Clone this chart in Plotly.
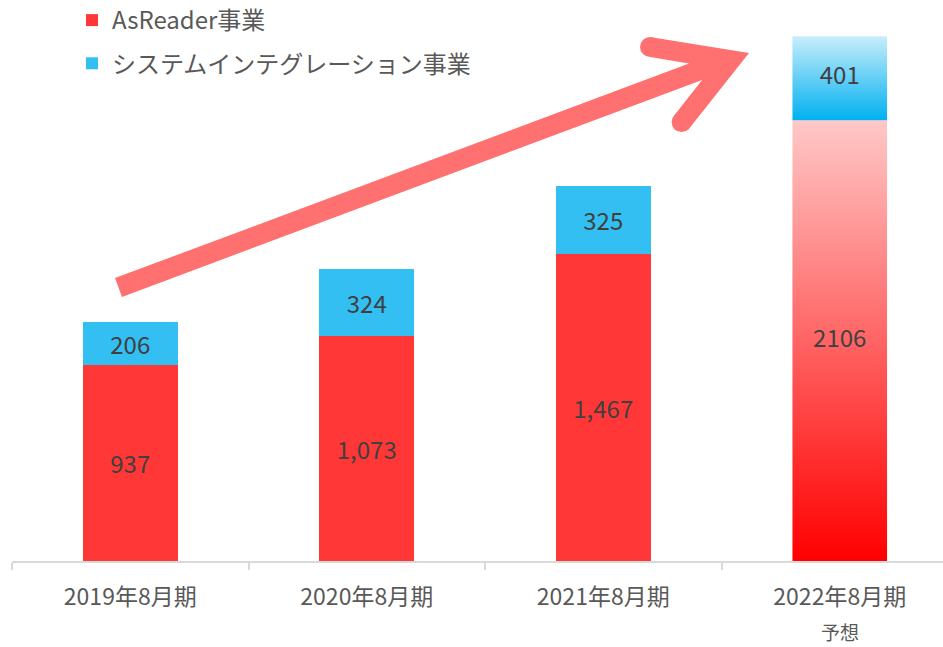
import plotly.graph_objects as go

# ---------------- data ----------------
categories = ["2019年8月期", "2020年8月期", "2021年8月期", "2022年8月期"]
asreader = [937, 1073, 1467, 2106]
system_integration = [206, 324, 325, 401]
asreader_labels = ["937", "1,073", "1,467", "2106"]
si_labels = ["206", "324", "325", "401"]
series_names = ["AsReader事業", "システムインテグレーション事業"]
forecast_note = "予想"

# ---------------- layout constants ----------------
W, H = 943, 647
ML, MR, MT, MB = 12, 0, 0, 86
PW, PH = W - ML - MR, H - MT - MB
CAT_PX = 236.5
X_MAX = -0.5 + PW / CAT_PX
Y_MAX = 2680
BAR_W = 0.4
FONT = "Noto Sans CJK JP"
RED, BLUE = "#FF3737", "#33BFF2"
ARROW = "#FF7171"

n = len(categories)
xs = list(range(n))
last = n - 1

fig = go.Figure()

red_colors = [RED] * (n - 1) + ["rgba(0,0,0,0)"]
blue_colors = [BLUE] * (n - 1) + ["rgba(0,0,0,0)"]
red_text = asreader_labels[:-1] + [""]
blue_text = si_labels[:-1] + [""]

label_font = dict(family=FONT, size=24, color="#404040")

fig.add_trace(go.Bar(
    x=xs, y=asreader, name=series_names[0], width=BAR_W,
    marker=dict(color=red_colors, line=dict(width=0)),
    text=red_text, textposition="inside", insidetextanchor="middle",
    textangle=0, textfont=label_font, legendgroup="a", hoverinfo="skip"))
fig.add_trace(go.Bar(
    x=xs, y=system_integration, name=series_names[1], width=BAR_W,
    marker=dict(color=blue_colors, line=dict(width=0)),
    text=blue_text, textposition="inside", insidetextanchor="middle",
    textangle=0, textfont=label_font, legendgroup="b", hoverinfo="skip"))

# forecast bar drawn with vertical gradients
hw = BAR_W / 2
x4 = xs[last]
r_top = asreader[last]
b_top = r_top + system_integration[last]
fig.add_trace(go.Scatter(
    x=[x4 - hw, x4 + hw, x4 + hw, x4 - hw, x4 - hw],
    y=[0, 0, r_top, r_top, 0], mode="lines", fill="toself",
    line=dict(width=0, color="rgba(0,0,0,0)"),
    fillgradient=dict(type="vertical", colorscale=[[0, "#FF0000"], [1, "#FFC8C8"]]),
    showlegend=False, hoverinfo="skip"))
fig.add_trace(go.Scatter(
    x=[x4 - hw, x4 + hw, x4 + hw, x4 - hw, x4 - hw],
    y=[r_top, r_top, b_top, b_top, r_top], mode="lines", fill="toself",
    line=dict(width=0, color="rgba(0,0,0,0)"),
    fillgradient=dict(type="vertical", colorscale=[[0, "#00B0F0"], [1, "#C8EEFB"]]),
    showlegend=False, hoverinfo="skip"))
fig.add_trace(go.Scatter(
    x=[x4, x4], y=[r_top / 2, r_top + system_integration[last] / 2],
    mode="text", text=[asreader_labels[last], si_labels[last]],
    textfont=label_font, showlegend=False, hoverinfo="skip"))

# ---------------- decorative arrow (pixel -> paper) ----------------
def P(px, py):
    return (px - ML) / PW, (H - MB - py) / PH

pts = [(115.0, 278.1), (689.0, 63.6), (650, 57), (650, 37), (749, 53),
       (689.4, 128.3), (673.8, 115.9), (702.1, 80.0), (122.0, 296.9)]
path = ""
for i, (px, py) in enumerate(pts):
    X, Y = P(px, py)
    path += ("M" if i == 0 else "L") + f"{X:.5f},{Y:.5f} "
path += "Z"
shapes = [dict(type="path", xref="paper", yref="paper", path=path,
               fillcolor=ARROW, line=dict(width=0))]
for cx, cy in [(650, 47), (681.6, 122.1)]:
    x0, y0 = P(cx - 10, cy + 10)
    x1, y1 = P(cx + 10, cy - 10)
    shapes.append(dict(type="circle", xref="paper", yref="paper",
                       x0=x0, y0=y0, x1=x1, y1=y1,
                       fillcolor=ARROW, line=dict(width=0)))

fig.update_layout(
    width=W, height=H,
    margin=dict(l=ML, r=MR, t=MT, b=MB, pad=0, autoexpand=False),
    paper_bgcolor="white", plot_bgcolor="white",
    font=dict(family=FONT, color="#595959"),
    barmode="stack",
    showlegend=True,
    legend=dict(x=(72 - ML) / PW, xanchor="left", y=1.0 + 2 / PH, yanchor="top",
                traceorder="grouped", tracegroupgap=9,
                font=dict(family=FONT, size=24, color="#595959"),
                bgcolor="rgba(0,0,0,0)"),
    xaxis=dict(range=[-0.5, X_MAX], tickmode="array", tickvals=xs,
               ticktext=categories, ticks="", showline=True,
               linecolor="#D9D9D9", linewidth=1.5, showgrid=False,
               zeroline=False, fixedrange=True, ticklabelstandoff=15,
               tickfont=dict(family=FONT, size=23, color="#595959"),
               minor=dict(tickmode="array", tickvals=[i - 0.5 for i in xs],
                          ticks="outside", ticklen=7, tickcolor="#D9D9D9",
                          tickwidth=1.5, showgrid=False)),
    yaxis=dict(range=[0, Y_MAX], visible=False, fixedrange=True),
    shapes=shapes,
    annotations=[dict(x=x4, xref="x", y=(H - MB - 631) / PH, yref="paper",
                      text=forecast_note, showarrow=False, yanchor="middle",
                      font=dict(family=FONT, size=19, color="#595959"))],
    hovermode=False,
)

fig.write_html("out.html",
               config={"displayModeBar": False},
               post_script="document.body.style.margin='0px';"
                           "document.body.style.overflow='hidden';")
